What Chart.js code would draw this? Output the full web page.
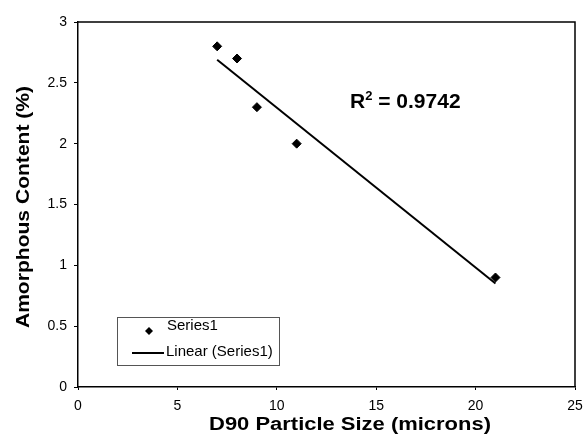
<!DOCTYPE html>
<html>
<head>
<meta charset="utf-8">
<script src="https://cdn.jsdelivr.net/npm/chart.js@4.4.0/dist/chart.umd.min.js"></script>
<style>
  html, body { margin: 0; padding: 0; background: #fff; }
  #wrap { width: 584px; height: 442px; }
</style>
</head>
<body>
<div id="wrap"><canvas id="scatterChart" width="584" height="442"></canvas></div>
<script>
// D90 particle size (microns) vs amorphous content (%)
const particleSize = [7, 8, 9, 11, 21];
const amorphous = [2.8, 2.7, 2.3, 2.0, 0.9];

// linear trendline ends
const trendX = [7, 21];
const trendY = [2.69, 0.85];

const xTicks = [0, 5, 10, 15, 20, 25];
const yTicks = [0, 0.5, 1, 1.5, 2, 2.5, 3];

const rSquared = "0.9742";
const seriesName = "Series1";
const trendName = "Linear (Series1)";

const FONT = "'Liberation Sans', Arial, sans-serif";

// text stretched a bit wider, the scan's font is broader than Arial
function wideText(ctx, text, x, y, stretch) {
    ctx.save();
    ctx.translate(x, y);
    ctx.scale(stretch, 1);
    ctx.fillText(text, 0, 0);
    ctx.restore();
}

// frame, axis titles, R² label and legend box
const decorations = {
    id: "decorations",
    afterDraw(chart) {
        const ctx = chart.ctx;
        const a = chart.chartArea;
        ctx.save();

        // plot frame (top + right)
        ctx.strokeStyle = "#000";
        ctx.lineWidth = 1.5;
        ctx.beginPath();
        ctx.moveTo(a.left, a.top);
        ctx.lineTo(a.right, a.top);
        ctx.lineTo(a.right, a.bottom);
        ctx.stroke();

        // axis titles
        ctx.fillStyle = "#000";
        ctx.font = "bold 18px " + FONT;
        ctx.textAlign = "center";
        ctx.textBaseline = "middle";
        wideText(ctx, "D90 Particle Size (microns)", 350, 425, 1.22);

        ctx.save();
        ctx.translate(24, 207);
        ctx.rotate(-Math.PI / 2);
        wideText(ctx, "Amorphous Content (%)", 0, 0, 1.17);
        ctx.restore();

        // R² label
        ctx.textAlign = "left";
        ctx.textBaseline = "alphabetic";
        ctx.font = "bold 21px " + FONT;
        let x = 350, y = 108;
        ctx.fillText("R", x, y);
        x += ctx.measureText("R").width;
        ctx.font = "bold 13px " + FONT;
        ctx.fillText("2", x, y - 8);
        x += ctx.measureText("2").width;
        ctx.font = "bold 21px " + FONT;
        ctx.fillText(" = " + rSquared, x, y);

        // legend box
        ctx.lineWidth = 1;
        ctx.strokeStyle = "#555";
        ctx.fillStyle = "#fff";
        ctx.fillRect(117, 317, 162, 48);
        ctx.strokeRect(117.5, 317.5, 162, 48);

        ctx.fillStyle = "#000";
        ctx.beginPath();
        ctx.moveTo(149, 327);
        ctx.lineTo(153, 331);
        ctx.lineTo(149, 335);
        ctx.lineTo(145, 331);
        ctx.closePath();
        ctx.fill();

        ctx.strokeStyle = "#000";
        ctx.lineWidth = 2;
        ctx.beginPath();
        ctx.moveTo(132, 353);
        ctx.lineTo(164, 353);
        ctx.stroke();

        ctx.font = "15px " + FONT;
        ctx.textBaseline = "middle";
        ctx.fillText(seriesName, 167, 326);
        ctx.fillText(trendName, 166, 352);

        ctx.restore();
    }
};

new Chart(document.getElementById("scatterChart"), {
    type: "scatter",
    data: {
        datasets: [{
            label: seriesName,
            data: particleSize.map((v, i) => ({ x: v, y: amorphous[i] })),
            pointStyle: "rectRot",
            pointRadius: 4.5,
            pointBackgroundColor: "#000",
            pointBorderColor: "#000",
            pointBorderWidth: 1,
            order: 1
        }, {
            label: trendName,
            data: trendX.map((v, i) => ({ x: v, y: trendY[i] })),
            showLine: true,
            borderColor: "#000",
            borderWidth: 2,
            pointRadius: 0,
            order: 2
        }]
    },
    options: {
        responsive: false,
        animation: false,
        layout: { padding: { left: 0, right: 9, top: 22, bottom: 0 } },
        plugins: {
            legend: { display: false },
            tooltip: { enabled: false }
        },
        scales: {
            x: {
                type: "linear",
                min: 0,
                max: 25,
                afterBuildTicks: s => { s.ticks = xTicks.map(v => ({ value: v })); },
                afterFit: s => { s.height = 55; s.paddingRight = 0; s.paddingLeft = 0; },
                grid: { drawOnChartArea: false, drawTicks: true, tickLength: 3, color: "#000" },
                border: { color: "#000", width: 1.5 },
                ticks: { color: "#000", font: { family: FONT, size: 14 }, padding: 8, callback: v => String(v) }
            },
            y: {
                type: "linear",
                min: 0,
                max: 3,
                afterBuildTicks: s => { s.ticks = yTicks.map(v => ({ value: v })); },
                afterFit: s => { s.width = 78; s.paddingTop = 0; s.paddingBottom = 0; },
                grid: { drawOnChartArea: false, drawTicks: true, tickLength: 4, color: "#000" },
                border: { color: "#000", width: 1.5 },
                ticks: { color: "#000", font: { family: FONT, size: 14 }, padding: 7, callback: v => String(v) }
            }
        }
    },
    plugins: [decorations]
});
</script>
</body>
</html>
